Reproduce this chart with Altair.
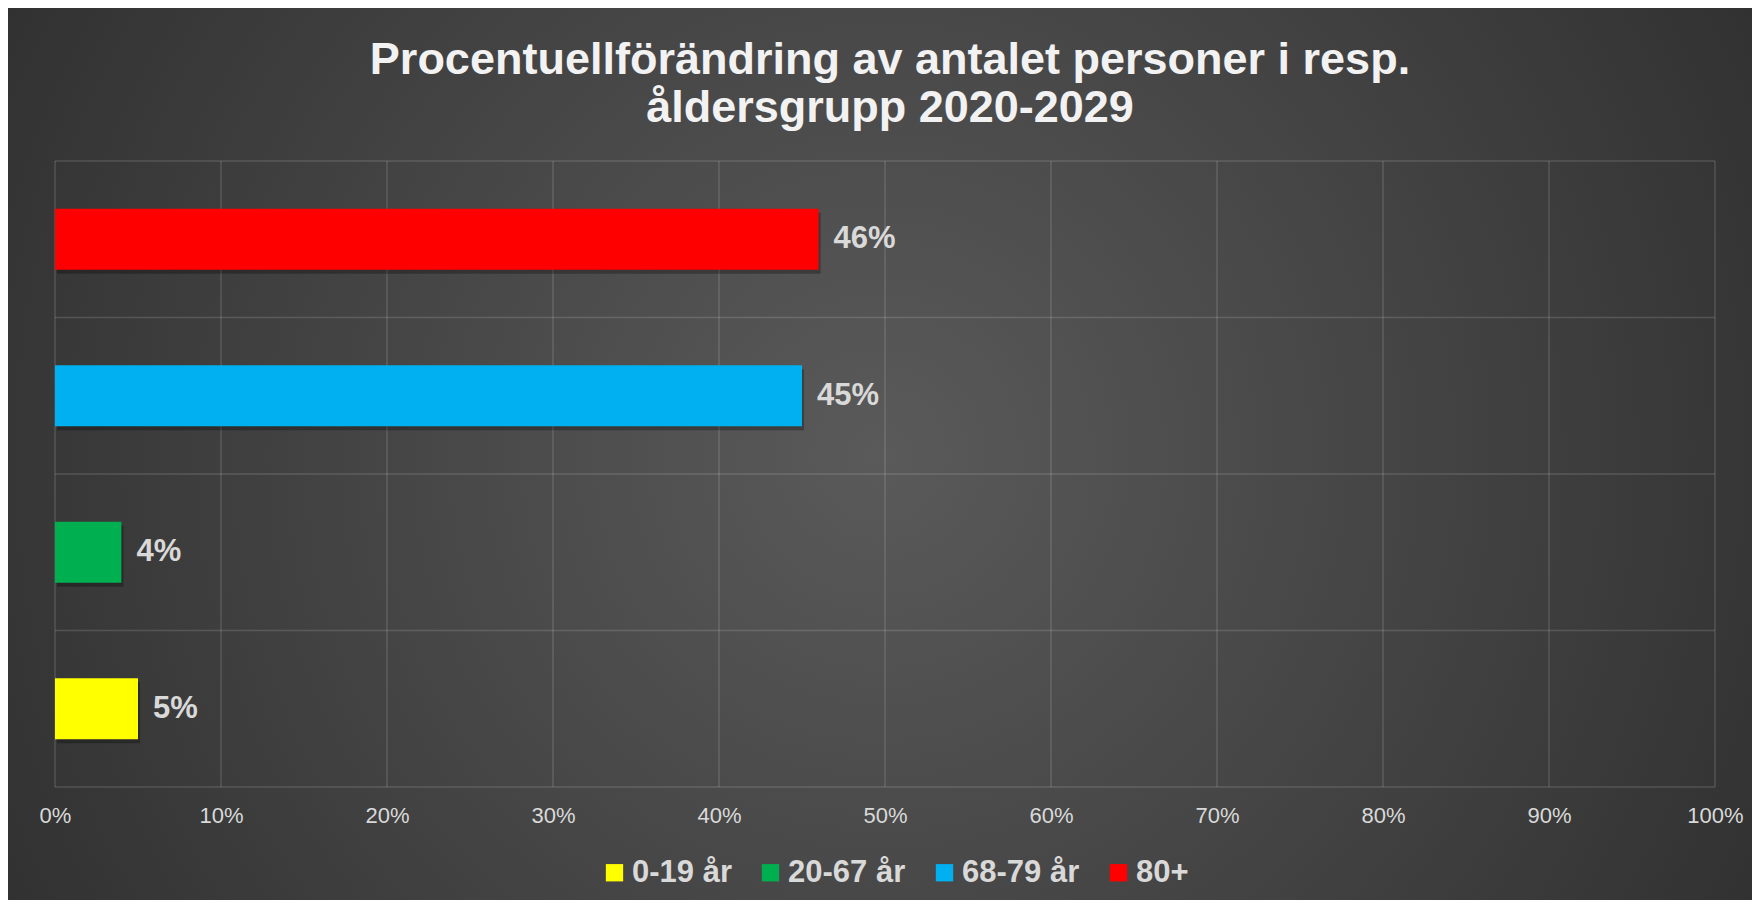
import altair as alt
import pandas as pd

# ---- data ----
groups = ["0-19 år", "20-67 år", "68-79 år", "80+"]
values = [0.05, 0.04, 0.45, 0.46]
colors = ["#ffff00", "#00b050", "#00b0f0", "#ff0000"]
tick_values = [0, 0.1, 0.2, 0.3, 0.4, 0.5, 0.6, 0.7, 0.8, 0.9, 1.0]
title_lines = ["Procentuellförändring av antalet personer i resp.", "åldersgrupp 2020-2029"]

df = pd.DataFrame({"group": groups, "value": values})
ticks_df = pd.DataFrame({"t": tick_values})

FONT = "Liberation Sans"
PW, PH = 1660, 626
PAD = {"left": 47, "top": 153, "right": 37, "bottom": 113}
P_INNER, P_OUTER = 0.61, 0.305
STEP = PH / (len(groups) - P_INNER + 2 * P_OUTER)
GRID_COLOR = "#ffffff"
GRID_OPACITY = 0.14
GRID_WIDTH = 1.5

y_order = list(reversed(groups))
y_scale = alt.Scale(domain=y_order, paddingInner=P_INNER, paddingOuter=P_OUTER)
x_scale = alt.Scale(domain=[0, 1], nice=False)

X_ENC = alt.X(
    "value:Q",
    scale=x_scale,
    axis=alt.Axis(
        values=tick_values,
        format=".0%",
        title=None,
        labelFont=FONT,
        labelFontSize=22,
        labelColor="#d9d9d9",
        labelPadding=18,
        labelFlush=False,
        ticks=False,
        domain=False,
        grid=False,
        zindex=1,
    ),
)
Y_ENC = alt.Y("group:N", scale=y_scale, sort=y_order, axis=None)

one = alt.Data(values=[{"a": 1}])

bg = alt.Chart(one).mark_rect(
    fill={
        "gradient": "radial",
        "x1": 0.5, "y1": 0.5, "r1": 0,
        "x2": 0.5, "y2": 0.5, "r2": 0.72,
        "stops": [
            {"offset": 0, "color": "#5a5a5a"},
            {"offset": 1, "color": "#262626"},
        ],
    },
).encode(
    x=alt.value(-PAD["left"]),
    x2=alt.value(PW + PAD["right"]),
    y=alt.value(-PAD["top"]),
    y2=alt.value(PH + PAD["bottom"]),
)

# vertical gridlines (incl. left/right frame)
vgrid = alt.Chart(ticks_df).mark_rule(
    color=GRID_COLOR, opacity=GRID_OPACITY, strokeWidth=GRID_WIDTH
).encode(x=alt.X("t:Q", scale=x_scale))

# horizontal lines at band boundaries (top edge of each category band)
hgrid = alt.Chart(df).mark_rule(
    color=GRID_COLOR, opacity=GRID_OPACITY, strokeWidth=GRID_WIDTH, yOffset=-STEP / 2
).encode(y=Y_ENC)

# bottom frame line
hbottom = alt.Chart(one).mark_rule(
    color=GRID_COLOR, opacity=GRID_OPACITY, strokeWidth=GRID_WIDTH
).encode(y=alt.value(PH), x=alt.value(0), x2=alt.value(PW))

title = alt.Chart(one).mark_text(
    align="center", baseline="alphabetic", lineHeight=48,
    font=FONT, fontSize=45, fontWeight="bold", color="#f2f2f2",
).encode(
    x=alt.value(835),
    y=alt.value(-87),
    text=alt.value(title_lines),
)

base = alt.Chart(df)

shadow = base.mark_bar(color="#000000", opacity=0.28, xOffset=2, yOffset=4).encode(
    x=X_ENC,
    y=Y_ENC,
)

bars = base.mark_bar().encode(
    x=X_ENC,
    y=Y_ENC,
    color=alt.Color(
        "group:N",
        scale=alt.Scale(domain=groups, range=colors),
        sort=groups,
        legend=alt.Legend(
            title=None,
            orient="none",
            direction="horizontal",
            legendX=544,
            legendY=696,
            symbolType="square",
            symbolSize=300,
            symbolStrokeWidth=0,
            symbolOpacity=1,
            labelFont=FONT,
            labelFontSize=31,
            labelFontWeight="bold",
            labelColor="#d9d9d9",
            labelOffset=2,
            columnPadding=23,
            padding=0,
        ),
    ),
)

labels = base.mark_text(
    align="left", baseline="middle", dx=15,
    font=FONT, fontSize=31, fontWeight="bold", color="#d9d9d9",
).encode(
    x=X_ENC,
    y=Y_ENC,
    text=alt.Text("value:Q", format=".0%"),
)

chart = alt.layer(
    bg, vgrid, hgrid, hbottom, title, shadow, bars, labels
).properties(
    width=PW,
    height=PH,
    autosize=alt.AutoSizeParams(type="none"),
    padding=PAD,
).configure(
    background="#2a2a2a",
).configure_view(
    strokeWidth=0,
)

chart.save("out.html", embed_options={"renderer": "svg", "actions": False})
